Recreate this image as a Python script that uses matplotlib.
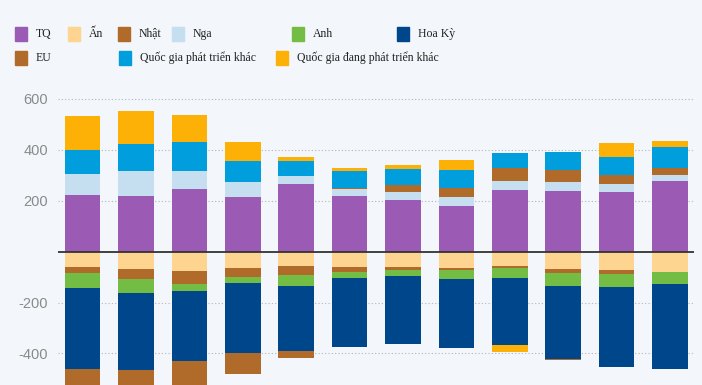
import numpy as np
import matplotlib
matplotlib.use('Agg')
import matplotlib.pyplot as plt
from matplotlib.patches import Rectangle

# stacked values per year (12 bars), billions USD, sign gives side of the zero line
names = ['TQ', 'Ấn', 'Nhật', 'Nga', 'Anh', 'Hoa Kỳ', 'EU',
         'Quốc gia phát triển khác', 'Quốc gia đang phát triển khác']
colors = ['#9b5bb5', '#fdd590', '#b06b2a', '#c5dff0', '#74bd44', '#00468a',
          '#b06b2a', '#009edd', '#fdb005']

tq    = [221, 219, 246, 213, 267, 220, 204, 180, 243, 239, 233, 279]
an    = [-59, -70, -78, -63, -57, -62, -62, -66, -57, -70, -74, -80]
nhat  = [-26, -39, -49, -38, -36, -18, -10, -8, -9, -14, -14, 0]
nga   = [85, 99, 72, 62, 29, 26, 30, 33, 33, 36, 31, 21]
anh   = [-59, -52, -27, -22, -41, -25, -24, -34, -37, -50, -51, -49]
hoaky = [-317, -304, -277, -277, -255, -270, -265, -270, -264, -287, -316, -332]
eu_pos = [0, 0, 0, 0, 0, 3, 28, 36, 53, 46, 37, 27]
eu_neg = [-100, -90, -110, -81, -28, 0, 0, 0, 0, -3, 0, 0]
qgpt  = [93, 104, 114, 81, 61, 68, 63, 72, 60, 72, 72, 85]
qgdpt_pos = [133, 132, 105, 76, 15, 13, 15, 38, 0, 0, 53, 24]
qgdpt_neg = [0, 0, 0, 0, 0, 0, 0, 0, -29, 0, 0, 0]

series = [tq, an, nhat, nga, anh, hoaky,
          list(np.array(eu_pos) + np.array(eu_neg)), qgpt,
          list(np.array(qgdpt_pos) + np.array(qgdpt_neg))]
# EU / developing have both signs in the source, keep them split for stacking
split = {6: (eu_pos, eu_neg), 8: (qgdpt_pos, qgdpt_neg)}

bg = '#f3f6fa'
fig = plt.figure(figsize=(7.02, 3.85), dpi=100, facecolor=bg)
ax = fig.add_axes([58 / 702, 0, 636 / 702, 305 / 385], facecolor=bg)

x = np.arange(12)
pos_base = np.zeros(12)
neg_base = np.zeros(12)
for i, (name, col) in enumerate(zip(names, colors)):
    if i in split:
        p, n = np.array(split[i][0], float), np.array(split[i][1], float)
    else:
        v = np.array(series[i], float)
        p, n = np.clip(v, 0, None), np.clip(v, None, 0)
    ax.bar(x, p, 0.665, bottom=pos_base, color=col, linewidth=0, zorder=2)
    ax.bar(x, n, 0.665, bottom=neg_base, color=col, linewidth=0, zorder=2)
    pos_base += p
    neg_base += n

ax.set_xlim(-0.46, 11.45)
ax.set_ylim(-524, 674)
ax.set_yticks([-400, -200, 200, 400, 600])
ax.set_yticklabels(['-400', '-200', '200', '400', '600'])
ax.grid(axis='y', linestyle=(0, (1, 2)), color='#b5b5b5', linewidth=0.8, zorder=0)
ax.axhline(0, color='#333333', linewidth=1.3, zorder=3)
ax.set_xticks([])
for s in ax.spines.values():
    s.set_visible(False)
ax.tick_params(axis='y', length=0, pad=7, labelsize=10.5, labelcolor='#8a8a8a')
for lab in ax.get_yticklabels():
    lab.set_family('Liberation Sans')

# legend laid out like the original
leg_pos = [(15, 34), (68, 34), (118, 34), (172, 34), (292, 34), (397, 34),
           (15, 58), (119, 58), (276, 58)]
W, H = 702, 385
for (px, py), name, col in zip(leg_pos, names, colors):
    fig.patches.append(Rectangle((px / W, 1 - (py + 7) / H), 12 / W, 14 / H,
                                 transform=fig.transFigure, color=col))
    fig.text((px + 21) / W, 1 - py / H, name, ha='left', va='center',
             fontsize=8.5, family='Liberation Serif', color='#222222')

fig.savefig('out.png', dpi=100, facecolor=bg)
